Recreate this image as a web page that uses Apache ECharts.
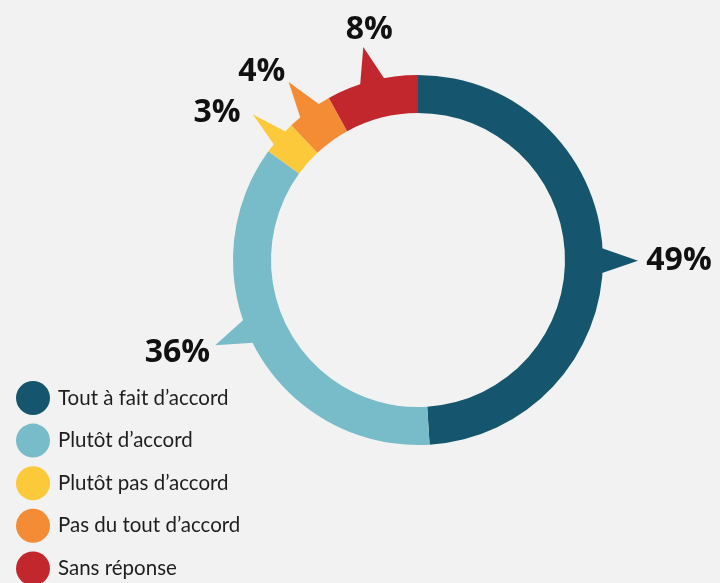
<!DOCTYPE html>
<html><head><meta charset="utf-8">
<script src="https://cdn.jsdelivr.net/npm/echarts@6/dist/echarts.min.js"></script>
<style>html,body{margin:0;padding:0;background:#f2f2f2}#c{width:720px;height:583px}</style>
</head><body><div id="c"></div>
<script>
const categories = ['Tout à fait d’accord','Plutôt d’accord','Plutôt pas d’accord','Pas du tout d’accord','Sans réponse'];
const values = [49, 36, 3, 4, 8];
const labels = ['49%', '36%', '3%', '4%', '8%'];
const colors = ['#16556e', '#78bcc9', '#fcc93b', '#f48c36', '#c1272d'];

// styling constants
const CX = 418, CY = 260, R0 = 147, R1 = 185, RTIP = 220;
const angleNudge = [2, 6, 0, 0, 0];
const labelNudge = [[0, 0], [0, 0], [-12, 12], [-8, 6], [14, 2]];
const total = values.reduce((a, b) => a + b, 0);

function renderPointer(params, api) {
  const i = params.dataIndex;
  let start = 0;
  for (let k = 0; k < i; k++) start += values[k];
  const v = api.value(0);
  const th = ((start + v / 2) / total * 360 + angleNudge[i]) * Math.PI / 180;
  const pt = (r, a) => [CX + r * Math.sin(a), CY - r * Math.cos(a)];
  const arc = v / total * 2 * Math.PI * R1;
  const halfW = Math.min(14, 0.28 * arc);
  const dA = halfW / R1;
  const b1 = pt(R1 - 4, th - dA), b2 = pt(R1 - 4, th + dA), tip = pt(RTIP, th);
  const txt = labels[i];
  const hw = txt.length === 3 ? 33 : 24, hh = 14;
  const lx = tip[0] + (hw + 8) * Math.sin(th) + labelNudge[i][0];
  const ly = tip[1] - (hh + 6) * Math.cos(th) + labelNudge[i][1];
  return {
    type: 'group',
    children: [
      { type: 'polygon', shape: { points: [b1, tip, b2] }, style: { fill: colors[i] } },
      { type: 'text', style: { text: txt, x: lx, y: ly, align: 'center', verticalAlign: 'middle',
          fontFamily: '"Open Sans", sans-serif', fontWeight: 'bold', fontSize: 32, fill: '#111' } }
    ]
  };
}

const chart = echarts.init(document.getElementById('c'));
chart.setOption({
  backgroundColor: '#f2f2f2',
  animation: false,
  color: colors,
  legend: {
    data: categories,
    orient: 'vertical',
    left: 16,
    top: 381,
    height: 230,
    padding: 0,
    icon: 'circle',
    itemWidth: 34,
    itemHeight: 34,
    itemGap: 8.6,
    selectedMode: false,
    textStyle: { fontFamily: 'Lato, sans-serif', fontSize: 20.5, color: '#1e1e1e', padding: [0, 0, 0, 3] }
  },
  series: [
    {
      type: 'custom',
      coordinateSystem: 'none',
      z: 1,
      silent: true,
      data: values,
      renderItem: renderPointer
    },
    {
      type: 'pie',
      z: 3,
      center: [CX, CY],
      radius: [R0, R1],
      startAngle: 90,
      clockwise: true,
      label: { show: false },
      labelLine: { show: false },
      emphasis: { scale: false },
      silent: true,
      itemStyle: { borderWidth: 0 },
      data: categories.map((c, i) => ({ name: c, value: values[i] }))
    }
  ]
});
</script>
</body></html>
